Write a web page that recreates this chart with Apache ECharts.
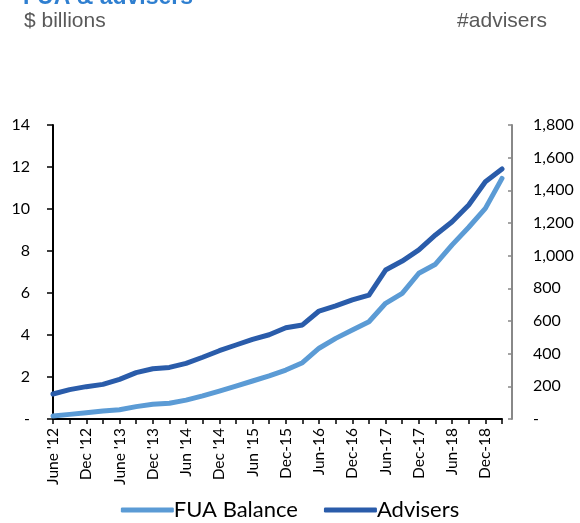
<!DOCTYPE html>
<html><head><meta charset="utf-8">
<script src="https://cdn.jsdelivr.net/npm/echarts@6/dist/echarts.min.js"></script>
<style>html,body{margin:0;padding:0;background:#fff}#c{width:580px;height:523px}</style>
</head><body><div id="c"></div>
<script>
var categories = ["June '12","Sep '12","Dec '12","Mar '13","June '13","Sep '13","Dec '13","Mar '14","Jun '14","Sep '14","Dec '14","Mar '15","Jun '15","Sep '15","Dec-15","Mar-16","Jun-16","Sep-16","Dec-16","Mar-17","Jun-17","Sep-17","Dec-17","Mar-18","Jun-18","Sep-18","Dec-18","Mar-19"];
var fuaBalance = [0.14,0.22,0.30,0.38,0.44,0.59,0.70,0.75,0.90,1.10,1.33,1.57,1.81,2.05,2.33,2.68,3.37,3.84,4.24,4.63,5.51,5.98,6.94,7.37,8.29,9.13,10.03,11.46];
var advisers = [153,180,198,212,243,284,308,316,341,378,418,453,488,516,559,576,661,692,729,759,912,967,1035,1127,1208,1310,1453,1531];
var leftTicks = {min:0, max:14, interval:2};
var rightTicks = {min:0, max:1800, interval:200};

var chart = echarts.init(document.getElementById('c'), null, {renderer:'canvas'});
var font = 'Lato, "Noto Sans", sans-serif';
chart.setOption({
  animation:false,
  title:[
    {text:'FUA & advisers', left:18, top:-19, textStyle:{color:'#2f7fd0', fontWeight:'bold', fontSize:23, fontFamily:'"Liberation Sans", Arial, sans-serif'}},
    {text:'$ billions', left:19, top:6, textStyle:{color:'#595959', fontWeight:'normal', fontSize:21, fontFamily:'"Liberation Sans", Arial, sans-serif'}},
    {text:'#advisers', right:28, top:6, textStyle:{color:'#595959', fontWeight:'normal', fontSize:21, fontFamily:'"Liberation Sans", Arial, sans-serif'}}
  ],
  legend:{
    bottom:-3, left:'center', itemGap:26, itemWidth:53, itemHeight:5, icon:'roundRect',
    textStyle:{fontSize:22, color:'#000', fontFamily:font, padding:[0,0,0,-5]},
    data:['FUA Balance','Advisers']
  },
  grid:{left:53, right:78, top:125, bottom:104, containLabel:false},
  xAxis:{
    type:'category', data:categories, boundaryGap:false,
    axisLine:{lineStyle:{color:'#000', width:2}},
    axisTick:{show:true, interval:0, length:5, lineStyle:{color:'#000', width:1.5}},
    axisLabel:{interval:1, rotate:90, margin:9, fontSize:15.5, color:'#000', fontFamily:font}
  },
  yAxis:[
    {type:'value', min:leftTicks.min, max:leftTicks.max, interval:leftTicks.interval, position:'left',
     splitLine:{show:false},
     axisLine:{show:true, lineStyle:{color:'#000', width:2}},
     axisTick:{show:true, length:6, lineStyle:{color:'#000', width:1.5}},
     axisLabel:{margin:23, fontSize:16, color:'#000', fontFamily:font, formatter:function(v){return v===0?'-':String(v);}}
    },
    {type:'value', min:rightTicks.min, max:rightTicks.max, interval:rightTicks.interval, position:'right', offset:10,
     splitLine:{show:false},
     axisLine:{show:true, lineStyle:{color:'#888', width:2}},
     axisTick:{show:true, inside:true, length:4, lineStyle:{color:'#888', width:1.5}},
     axisLabel:{margin:21, fontSize:16, color:'#000', fontFamily:font, formatter:function(v){return v===0?'-':v.toLocaleString('en-US');}}
    }
  ],
  series:[
    {name:'FUA Balance', type:'line', yAxisIndex:0, data:fuaBalance, showSymbol:false, symbol:'none',
     lineStyle:{color:'#5b9bd5', width:5, cap:'round', join:'round'}, itemStyle:{color:'#5b9bd5'}},
    {name:'Advisers', type:'line', yAxisIndex:1, data:advisers, showSymbol:false, symbol:'none',
     lineStyle:{color:'#2a5caa', width:5, cap:'round', join:'round'}, itemStyle:{color:'#2a5caa'}}
  ]
});
</script></body></html>
